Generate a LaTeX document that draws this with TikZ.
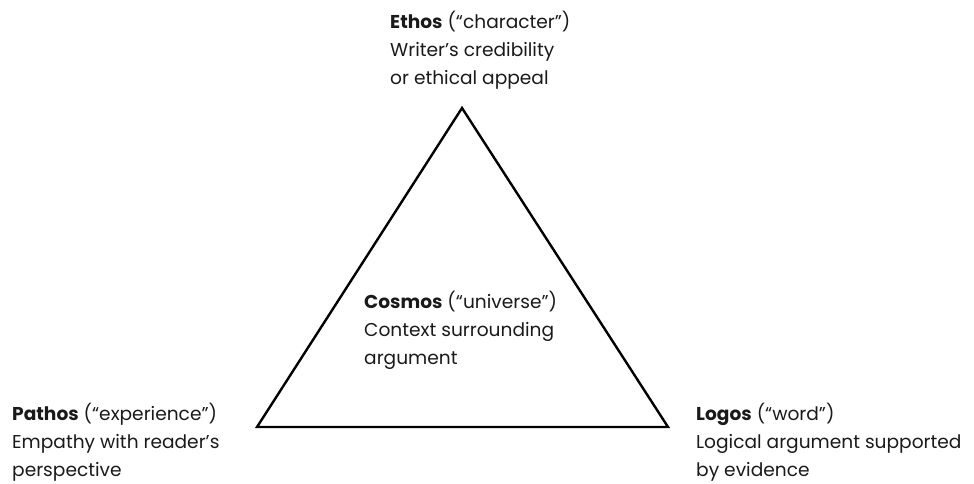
\documentclass[tikz,border=0pt]{standalone}
\usepackage{fontspec}
\setmainfont{Poppins}
\usepackage{tikz}
\usetikzlibrary{positioning}
\usepackage{xcolor}
\definecolor{txt}{HTML}{1A1A1A}

\begin{document}
\begin{tikzpicture}[x=1pt,y=-1pt,
		lbl/.style={anchor=base west,align=left,inner sep=0pt,text=txt,
			font=\fontsize{18.6}{28}\selectfont}]
			\useasboundingbox (0,0) rectangle (974,483);
			\coordinate (E) at (462,108);
			\coordinate (P) at (257,427);
			\coordinate (L) at (668,427);
			\draw[line width=2.4pt,line join=miter] (E) -- (L) -- (P) -- cycle;
			% anchors sit on the baseline of the last line
			\node[lbl] (ethos) at (390,84) {\textbf{Ethos} (“character”)\\Writer’s credibility\\or ethical appeal};
			\node[lbl] (cosmos) at (364,364) {\textbf{Cosmos} (“universe”)\\Context surrounding\\argument};
			\node[lbl] (pathos) at (12,476) {\textbf{Pathos} (“experience”)\\Empathy with reader’s\\perspective};
			\node[lbl] (logos) at (696,476) {\textbf{Logos} (“word”)\\Logical argument supported\\by evidence};
		\end{tikzpicture}
\end{document}
